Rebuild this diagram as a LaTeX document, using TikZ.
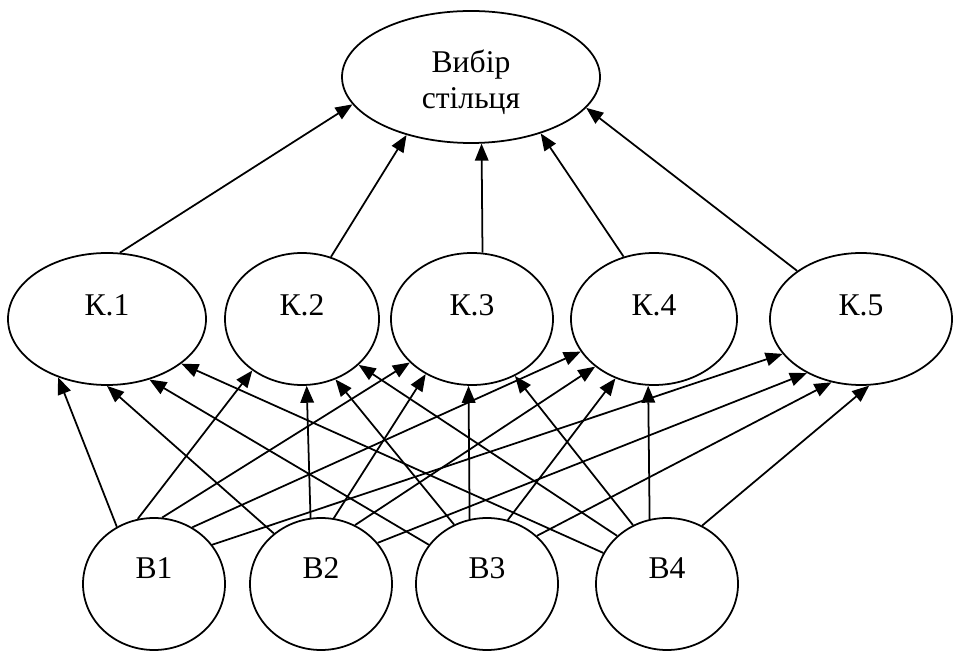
\documentclass[tikz,border=0pt]{standalone}
\usepackage{fontspec}
\setmainfont{Liberation Serif}
\usetikzlibrary{shapes.geometric,arrows.meta}

\tikzset{
    oval/.style={draw, ellipse, line width=1pt, inner sep=0pt, minimum height=2.64cm,
        font=\fontsize{18pt}{21pt}\selectfont},
    goal/.style={oval, minimum width=5.16cm, align=center, text height=1.40cm},
    crit/.style={oval, text depth=0.56cm},
    alt/.style={oval, minimum width=2.84cm, text depth=0.64cm},
    link/.style={line width=1pt, -{Triangle[length=0.34cm,width=0.27cm]}}
}

\begin{document}
\begin{tikzpicture}
    \useasboundingbox (0,0) rectangle (19.06,13.02);

    % Goal
    \node[goal] (goal) at (9.42,11.48) {Вибір\\стільця};

    % Criteria
    \node[crit, minimum width=3.96cm] (K1) at (2.14,6.64) {К.1};
    \node[crit, minimum width=3.08cm] (K2) at (6.04,6.64) {К.2};
    \node[crit, minimum width=3.24cm] (K3) at (9.44,6.64) {К.3};
    \node[crit, minimum width=3.32cm] (K4) at (13.08,6.64) {К.4};
    \node[crit, minimum width=3.64cm] (K5) at (17.22,6.64) {К.5};

    % Alternatives
    \node[alt] (B1) at (3.08,1.34) {В1};
    \node[alt] (B2) at (6.42,1.34) {В2};
    \node[alt] (B3) at (9.74,1.34) {В3};
    \node[alt] (B4) at (13.34,1.34) {В4};

    % Criteria to goal
    \draw[link] (K1.79) -- (goal.193);
    \draw[link] (K2.65) -- (goal.222.6);
    \draw[link] (K3.81.4) -- (goal.279.2);
    \draw[link] (K4.116.6) -- (goal.321.1);
    \draw[link] (K5.143.9) -- (goal.345);

    % Alternative B1
    \draw[link] (B1.123) -- (K1.230.7);
    \draw[link] (B1.104.9) -- (K2.226.1);
    \draw[link] (B1.83.2) -- (K3.215.3);
    \draw[link] (B1.56.5) -- (K4.204.9);
    \draw[link] (B1.34.5) -- (K5.204.8);

    % Alternative B2
    \draw[link] (B2.133.3) -- (K1.270);
    \draw[link] (B2.99.5) -- (K2.274.1);
    \draw[link] (B2.79.7) -- (K3.230.7);
    \draw[link] (B2.60) -- (K4.219.3);
    \draw[link] (B2.36.9) -- (K5.225);

    % Alternative B3
    \draw[link] (B3.146.5) -- (K1.305.7);
    \draw[link] (B3.119.4) -- (K2.299.1);
    \draw[link] (B3.105) -- (K3.267.4);
    \draw[link] (B3.72.4) -- (K4.237.5);
    \draw[link] (B3.44.4) -- (K5.245.8);

    % Alternative B4
    \draw[link] (B4.154.2) -- (K1.329.3);
    \draw[link] (B4.136.8) -- (K2.321.9);
    \draw[link] (B4.120.7) -- (K3.307.3);
    \draw[link] (B4.105) -- (K4.265);
    \draw[link] (B4.59.5) -- (K5.277.1);
\end{tikzpicture}
\end{document}
